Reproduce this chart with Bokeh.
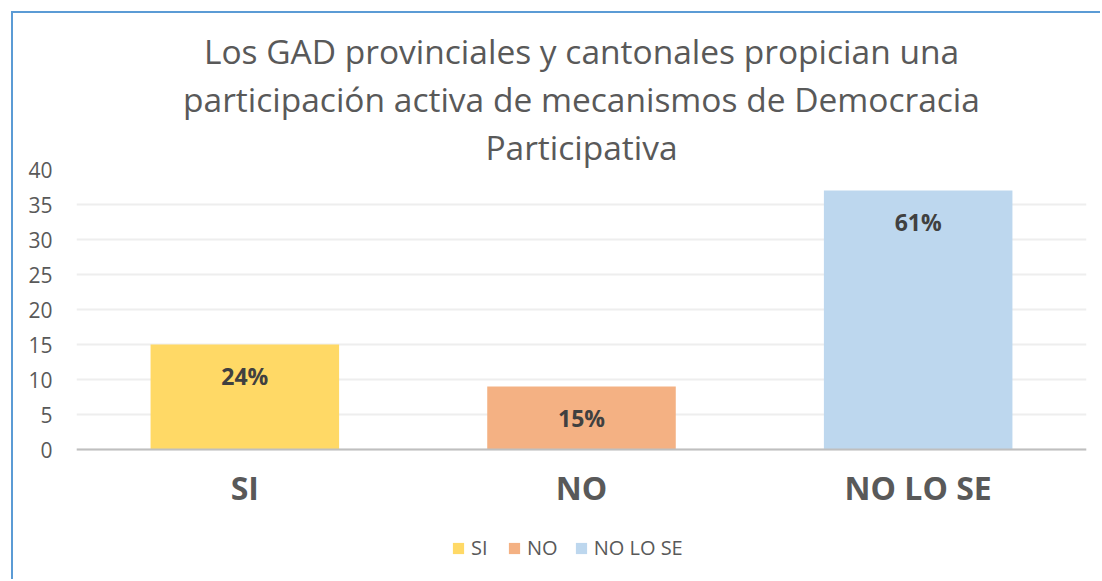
from bokeh.plotting import figure
from bokeh.models import ColumnDataSource, LabelSet, Legend, LegendItem, Title, FixedTicker
from bokeh.core.properties import value
from bokeh.embed import file_html
from bokeh.resources import INLINE

categories = ["SI", "NO", "NO LO SE"]
values = [15, 9, 37]
pct_labels = ["24%", "15%", "61%"]
colors = ["#FFD966", "#F4B183", "#BDD7EE"]
title_lines = ["Los GAD provinciales y cantonales propician una",
               "participación activa de mecanismos de Democracia",
               "Participativa"]
y_ticks = [0, 5, 10, 15, 20, 25, 30, 35, 40]

FONT = "Open Sans"

src = ColumnDataSource(dict(cat=categories, val=values, lab=pct_labels, col=colors))

p = figure(x_range=categories, y_range=(-18.85, 40), width=1089, height=568,
           output_backend="svg", toolbar_location=None,
           min_border_left=63, min_border_right=16, min_border_top=156, min_border_bottom=0)
p.title = None
for line in reversed(title_lines):
    p.add_layout(Title(text=line, align="center", text_font=FONT, text_font_size="33.5px",
                       text_font_style="normal", text_color="#595959",
                       standoff=0, offset=-19), "above")

renderers = []
for i, c in enumerate(categories):
    r = p.vbar(x=[c], top=[values[i]], width=0.56, color=colors[i], line_color=None)
    renderers.append(r)

labels = LabelSet(x="cat", y="val", text="lab", source=src, text_align="center",
                  text_baseline="top", y_offset=-15, text_font=value(FONT),
                  text_font_size="23px", text_font_style="bold", text_color="#404040")
p.add_layout(labels)

legend = Legend(items=[LegendItem(label=c, renderers=[renderers[i]]) for i, c in enumerate(categories)],
                orientation="horizontal", location=(375, 20), glyph_width=14, glyph_height=14,
                label_text_font=FONT, label_text_font_size="20px", label_text_color="#595959",
                border_line_color=None, background_fill_alpha=0, spacing=16, label_standoff=6,
                padding=0, margin=0)
p.add_layout(legend, "center")

p.yaxis.ticker = FixedTicker(ticks=y_ticks)
p.yaxis.axis_line_color = None
p.yaxis.major_tick_line_color = None
p.yaxis.minor_tick_line_color = None
p.yaxis.major_label_text_font = FONT
p.yaxis.major_label_text_font_size = "21px"
p.yaxis.major_label_text_color = "#595959"
p.yaxis.major_label_standoff = 18

p.xaxis.fixed_location = 0
p.xaxis.axis_line_color = "#BFBFBF"
p.xaxis.axis_line_width = 2
p.xaxis.major_tick_line_color = None
p.xaxis.minor_tick_line_color = None
p.xaxis.major_label_text_font = FONT
p.xaxis.major_label_text_font_size = "32px"
p.xaxis.major_label_text_font_style = "bold"
p.xaxis.major_label_text_color = "#595959"
p.xaxis.major_label_standoff = 10

p.xgrid.grid_line_color = None
p.ygrid.grid_line_color = "#EEEEEE"
p.ygrid.grid_line_width = 2
p.outline_line_color = None
p.x_range.range_padding = 0

p.styles = {"margin-left": "11px", "margin-top": "11px",
            "border-left": "2px solid #5B9BD5", "border-top": "2px solid #5B9BD5"}

open("out.html", "w").write(file_html(p, INLINE))
